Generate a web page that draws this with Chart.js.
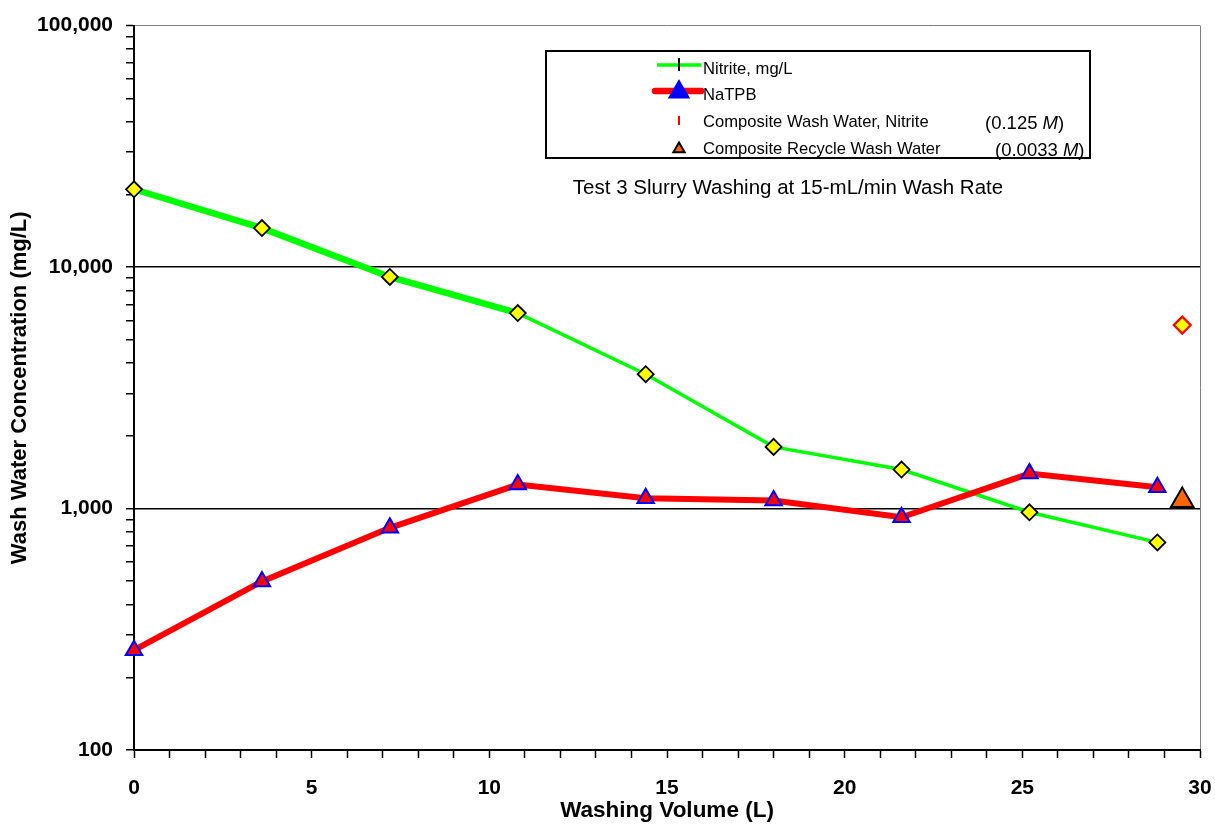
<!DOCTYPE html>
<html><head><meta charset="utf-8">
<script src="https://cdn.jsdelivr.net/npm/chart.js@4.4.0/dist/chart.umd.min.js"></script>
<style>html,body{margin:0;padding:0;background:#fff;overflow:hidden}</style>
</head><body>
<canvas id="c" width="1215" height="824" style="width:1215px;height:824px;display:block"></canvas>
<script>
// ---- data ----
const washVolume = [0, 3.6, 7.2, 10.8, 14.4, 18, 21.6, 25.2, 28.8];
const nitrite = [21000, 14500, 9100, 6450, 3600, 1800, 1450, 965, 724];
const natpb = [259, 499, 832, 1257, 1103, 1079, 920, 1395, 1224];
const compositeVolume = [29.5];
const compositeNitrite = [5750];
const compositeRecycle = [1080];
const yMajorTicks = [100, 1000, 10000, 100000];
const xMajorTicks = [0, 5, 10, 15, 20, 25, 30];
const legendLabels = ['Nitrite, mg/L', 'NaTPB', 'Composite Wash Water, Nitrite', 'Composite Recycle Wash Water'];
const legendNotes = ['', '', '(0.125 |M|)', '(0.0033 |M|)'];
const subtitle = 'Test 3 Slurry Washing at 15-mL/min Wash Rate';

const FONT = "'Liberation Sans', Arial, sans-serif";
Chart.defaults.font.family = FONT;
Chart.defaults.color = '#000';

const pts = (xs, ys) => ys.map((v, i) => ({x: xs[i], y: v}));

const annotPlugin = {
  id: 'annot',
  afterDraw(chart) {
    const ctx = chart.ctx;
    const H = Chart.helpers;
    ctx.save();
    // subtitle
    ctx.fillStyle = '#000';
    ctx.font = '20.5px ' + FONT;
    ctx.textAlign = 'center';
    ctx.textBaseline = 'middle';
    ctx.fillText(subtitle, 788, 188);
    // legend box
    ctx.lineWidth = 2;
    ctx.strokeStyle = '#000';
    ctx.strokeRect(546, 51, 544, 107);
    const rows = [69, 95, 122, 149];
    const sx0 = 657, sx1 = 701, mx = 679, tx = 703;
    // row 1: nitrite
    ctx.lineCap = 'butt';
    ctx.strokeStyle = '#00FF00'; ctx.lineWidth = 3.5;
    ctx.beginPath(); ctx.moveTo(sx0, rows[0] - 4); ctx.lineTo(sx1, rows[0] - 4); ctx.stroke();
    ctx.strokeStyle = '#000'; ctx.lineWidth = 2;
    ctx.beginPath(); ctx.moveTo(mx, rows[0] - 11); ctx.lineTo(mx, rows[0] + 2); ctx.stroke();
    // row 2: NaTPB
    ctx.lineCap = 'round';
    ctx.strokeStyle = '#FF0000'; ctx.lineWidth = 6.5;
    ctx.beginPath(); ctx.moveTo(sx0 - 2, rows[1] - 4); ctx.lineTo(sx1, rows[1] - 4); ctx.stroke();
    ctx.fillStyle = '#FF0000'; ctx.strokeStyle = '#0000FF';
    H.drawPoint(ctx, {pointStyle: 'triangle', radius: 6.5, rotation: 0, borderWidth: 2}, mx, rows[1] - 3);
    // row 3: composite nitrite
    ctx.lineCap = 'butt';
    ctx.strokeStyle = '#FF0000'; ctx.lineWidth = 2;
    ctx.beginPath(); ctx.moveTo(mx, rows[2] - 6); ctx.lineTo(mx, rows[2] + 3); ctx.stroke();
    // row 4: composite recycle
    ctx.fillStyle = '#FF6600'; ctx.strokeStyle = '#000';
    H.drawPoint(ctx, {pointStyle: 'triangle', radius: 6.5, rotation: 0, borderWidth: 2}, mx, rows[3]);
    // texts
    ctx.fillStyle = '#000';
    ctx.textAlign = 'left';
    ctx.textBaseline = 'middle';
    const noteX = [0, 0, 985, 995];
    legendLabels.forEach((t, i) => {
      ctx.font = '16.6px ' + FONT;
      ctx.fillText(t, tx, rows[i]);
      if (legendNotes[i]) {
        const parts = legendNotes[i].split('|');
        let x = noteX[i];
        parts.forEach((p, k) => {
          ctx.font = (k === 1 ? 'italic ' : '') + '18.5px ' + FONT;
          ctx.fillText(p, x, rows[i] + 2);
          x += ctx.measureText(p).width;
        });
      }
    });
    ctx.restore();
  }
};

const allYTicks = [];
for (let e = 2; e <= 5; e++) {
  for (let m = 1; m <= 9; m++) {
    const v = m * Math.pow(10, e);
    if (v <= 100000) allYTicks.push(v);
  }
}

new Chart(document.getElementById('c'), {
  type: 'line',
  data: {
    datasets: [
      {
        label: legendLabels[0],
        data: pts(washVolume, nitrite),
        borderColor: '#00FF00',
        borderWidth: 3.5,
        segment: { borderWidth: c => (c.p0DataIndex < 3 ? 6.5 : 3.5) },
        pointStyle: 'rectRot',
        pointRadius: 8,
        pointBackgroundColor: '#FFFF00',
        pointBorderColor: '#000',
        pointBorderWidth: 1.8,
        order: 2,
        clip: false,
        tension: 0
      },
      {
        label: legendLabels[1],
        data: pts(washVolume, natpb),
        borderColor: '#FF0000',
        borderWidth: 6,
        pointStyle: 'triangle',
        pointRadius: 9.5,
        pointBackgroundColor: '#FF0000',
        pointBorderColor: '#0000FF',
        pointBorderWidth: 2,
        order: 1,
        clip: false,
        tension: 0
      },
      {
        label: legendLabels[2],
        data: pts(compositeVolume, compositeNitrite),
        showLine: false,
        pointStyle: 'rectRot',
        pointRadius: 8.5,
        pointBackgroundColor: '#FFFF00',
        pointBorderColor: '#FF0000',
        pointBorderWidth: 2.2,
        order: 0,
        clip: false
      },
      {
        label: legendLabels[3],
        data: pts(compositeVolume, compositeRecycle),
        showLine: false,
        pointStyle: 'triangle',
        pointRadius: 13,
        pointBackgroundColor: '#FF6600',
        pointBorderColor: '#000',
        pointBorderWidth: 2,
        order: 0,
        clip: false
      }
    ]
  },
  options: {
    responsive: false,
    animation: false,
    events: [],
    layout: { padding: { top: 24, right: 15, left: 0, bottom: 0 } },
    plugins: { legend: { display: false }, tooltip: { enabled: false } },
    scales: {
      x: {
        type: 'linear',
        min: 0, max: 30,
        afterFit: s => { s.height = 74; s.paddingRight = 0; s.paddingLeft = 0; },
        afterBuildTicks: s => {
          const t = [];
          for (let v = 0; v <= 30; v++) t.push({value: v});
          s.ticks = t;
        },
        ticks: {
          autoSkip: false, maxRotation: 0, padding: 18,
          font: { size: 21, weight: 'bold' },
          callback: v => (xMajorTicks.includes(v) ? String(v) : '')
        },
        grid: {
          color: c => (c.tick && c.tick.value === 30 ? '#808080' : 'rgba(0,0,0,0)'),
          tickColor: '#000', tickLength: 8, lineWidth: 1, tickWidth: 1.5
        },
        border: { color: '#000', width: 2 },
        title: {
          display: true, text: 'Washing Volume (L)',
          font: { size: 22.5, weight: 'bold' }, padding: { top: 0, bottom: 0 }
        }
      },
      y: {
        type: 'logarithmic',
        min: 100, max: 100000,
        afterFit: s => { s.width = 134; },
        afterBuildTicks: s => { s.ticks = allYTicks.map(v => ({value: v})); },
        ticks: {
          autoSkip: false, padding: 13,
          font: { size: 21, weight: 'bold' },
          callback: v => (yMajorTicks.includes(v) ? v.toLocaleString('en-US') : '')
        },
        grid: {
          color: c => {
            const v = c.tick && c.tick.value;
            if (v === 100000) return '#808080';
            if (v === 1000 || v === 10000) return '#000';
            return 'rgba(0,0,0,0)';
          },
          lineWidth: c => (c.tick && c.tick.value === 100000 ? 1 : 1.5),
          tickColor: '#000', tickLength: 8, tickWidth: 1.5
        },
        border: { color: '#000', width: 2 },
        title: {
          display: true, text: 'Wash Water Concentration (mg/L)',
          font: { size: 22, weight: 'bold' }, padding: { top: 7, bottom: 0 }
        }
      }
    }
  },
  plugins: [annotPlugin]
});
</script>
</body></html>
